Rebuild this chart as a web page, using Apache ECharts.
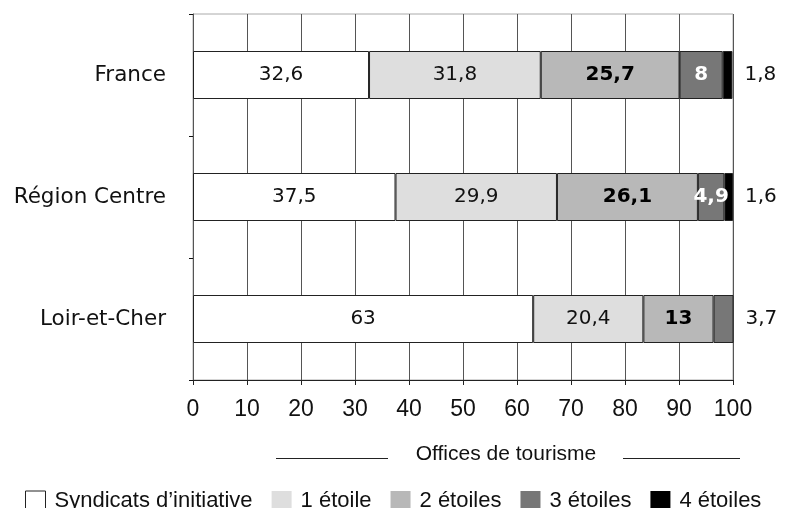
<!DOCTYPE html>
<html><head><meta charset="utf-8">
<script src="https://cdn.jsdelivr.net/npm/echarts@6/dist/echarts.min.js"></script>
<style>html,body{margin:0;padding:0;background:#fff}#c{width:786px;height:508px}</style>
</head><body><div id="c"></div>
<script>
const categories = ['France', 'Région Centre', 'Loir-et-Cher'];
const seriesNames = ['Syndicats d\u2019initiative', '1 étoile', '2 étoiles', '3 étoiles', '4 étoiles'];
const syndicats = [32.6, 37.5, 63];
const etoile1 = [31.8, 29.9, 20.4];
const etoile2 = [25.7, 26.1, 13];
const etoile3 = [8, 4.9, 3.7];
const etoile4 = [1.8, 1.6, 0];
const xTicks = [0, 10, 20, 30, 40, 50, 60, 70, 80, 90, 100];
const axisTitle = 'Offices de tourisme';

const colors = ['#ffffff', '#dedede', '#b8b8b8', '#777777', '#000000'];
const values = [syndicats, etoile1, etoile2, etoile3, etoile4];
const lib = "'Liberation Sans', Arial, sans-serif";
const dj = "'DejaVu Sans', sans-serif";
const fmt = v => String(v).replace('.', ',');

const labelStyles = [
  {color: '#111', fontWeight: 'normal'},
  {color: '#111', fontWeight: 'normal'},
  {color: '#000', fontWeight: 'bold'},
  {color: '#fff', fontWeight: 'bold'},
  {color: '#111', fontWeight: 'normal'}
];

function isLastNonZero(si, ci) {
  for (let k = si + 1; k < values.length; k++) if (values[k][ci] > 0) return false;
  return true;
}

const series = values.map((arr, si) => ({
  name: seriesNames[si],
  type: 'bar',
  stack: 'total',
  barWidth: 48,
  itemStyle: {color: colors[si], borderColor: '#222', borderWidth: 1},
  data: arr.map((v, ci) => {
    const outside = isLastNonZero(si, ci);
    return {
      value: v,
      label: outside ? {position: 'right', distance: 12, color: '#111', fontWeight: 'normal'} : {}
    };
  }),
  label: {
    show: true,
    position: 'inside',
    fontFamily: dj,
    fontSize: 20,
    color: labelStyles[si].color,
    fontWeight: labelStyles[si].fontWeight,
    formatter: p => p.value ? fmt(p.value) : ''
  }
}));

const legendData = seriesNames.map((n, i) => ({
  name: n,
  itemStyle: i === 0 ? {color: '#fff', borderColor: '#222', borderWidth: 1} : {color: colors[i], borderWidth: 0}
}));

const chart = echarts.init(document.getElementById('c'), null, {renderer: 'canvas'});
chart.setOption({
  animation: false,
  backgroundColor: '#fff',
  grid: {left: 193, right: 53, top: 14, bottom: 128, show: true, borderColor: '#aaa', borderWidth: 1},
  legend: {
    data: legendData,
    left: 20, top: 485,
    itemWidth: 20, itemHeight: 20, itemGap: 19,
    icon: 'rect',
    textStyle: {fontFamily: lib, fontSize: 22, color: '#111', padding: [0, 0, 0, 4]}
  },
  xAxis: {
    type: 'value', min: 0, max: 100, interval: 10,
    name: axisTitle, nameLocation: 'middle', nameGap: 64,
    nameTextStyle: {fontFamily: lib, fontSize: 21, color: '#111', padding: [0, 0, 0, 86]},
    axisLine: {show: true, lineStyle: {color: '#222'}},
    axisTick: {show: true, length: 5, lineStyle: {color: '#222'}},
    axisLabel: {fontFamily: lib, fontSize: 23, color: '#111', margin: 18,
      formatter: v => xTicks.includes(v) ? String(v) : ''},
    splitLine: {show: true, lineStyle: {color: '#555', width: 1}}
  },
  yAxis: {
    type: 'category', data: categories, inverse: true,
    axisLine: {show: true, lineStyle: {color: '#555'}},
    axisTick: {show: true, length: 4, lineStyle: {color: '#111'}},
    axisLabel: {fontFamily: dj, fontSize: 21.5, color: '#111', margin: 27},
    splitLine: {show: false}
  },
  series: series,
  graphic: [
    {type: 'line', shape: {x1: 276, y1: 458.5, x2: 388, y2: 458.5}, style: {stroke: '#222', lineWidth: 1}},
    {type: 'line', shape: {x1: 623, y1: 458.5, x2: 740, y2: 458.5}, style: {stroke: '#222', lineWidth: 1}}
  ]
});
</script></body></html>
